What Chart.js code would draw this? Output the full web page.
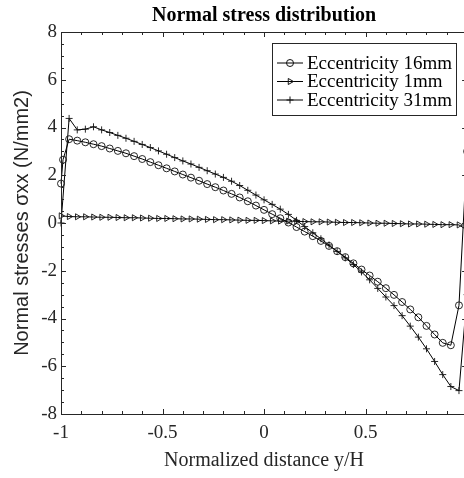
<!DOCTYPE html>
<html>
<head>
<meta charset="utf-8">
<title>Normal stress distribution</title>
<script src="https://cdn.jsdelivr.net/npm/chart.js@4.4.1/dist/chart.umd.min.js"></script>
<style>
html, body { margin: 0; padding: 0; background: #fff; overflow: hidden; }
#wrap { width: 472px; height: 478px; }
</style>
</head>
<body>
<div id="wrap"><canvas id="stressChart" width="472" height="478"></canvas></div>
<script>
// Normalized distance y/H (shared by all series)
const xValues = [-1, -0.99, -0.96, -0.92, -0.88, -0.84, -0.8, -0.76, -0.72, -0.68, -0.64, -0.6,
    -0.56, -0.52, -0.48, -0.44, -0.4, -0.36, -0.32, -0.28, -0.24, -0.2, -0.16, -0.12, -0.08, -0.04,
    0, 0.04, 0.08, 0.12, 0.16, 0.2, 0.24, 0.28, 0.32, 0.36, 0.4, 0.44, 0.48, 0.52, 0.56, 0.6,
    0.64, 0.68, 0.72, 0.76, 0.8, 0.84, 0.88, 0.92, 0.96, 1];

// Normal stresses (N/mm2)
const ecc16 = [1.65, 2.65, 3.51, 3.45, 3.38, 3.3, 3.22, 3.12, 3.02, 2.92, 2.8, 2.68,
    2.55, 2.42, 2.29, 2.16, 2.03, 1.9, 1.77, 1.63, 1.5, 1.36, 1.22, 1.07, 0.91, 0.73,
    0.55, 0.37, 0.2, 0.02, -0.17, -0.36, -0.55, -0.75, -0.96, -1.18, -1.43, -1.69, -1.95, -2.2, -2.46, -2.73,
    -3.01, -3.31, -3.62, -3.95, -4.31, -4.67, -5.02, -5.12, -3.45, 3.0];
const ecc1 = [0.3, null, 0.27, 0.26, 0.26, 0.25, 0.24, 0.24, 0.23, 0.22, 0.22, 0.21,
    0.2, 0.19, 0.19, 0.18, 0.17, 0.17, 0.16, 0.15, 0.14, 0.14, 0.13, 0.12, 0.11, 0.11,
    0.1, 0.09, 0.08, 0.08, 0.07, 0.06, 0.05, 0.05, 0.04, 0.03, 0.02, 0.02, 0.01, 0, -0.01, -0.01,
    -0.02, -0.03, -0.04, -0.04, -0.05, -0.06, -0.07, -0.07, -0.08, -0.3];
const ecc31 = [0, null, 4.38, 3.9, 3.93, 4.03, 3.9, 3.79, 3.67, 3.55, 3.42, 3.29,
    3.16, 3.02, 2.88, 2.74, 2.6, 2.47, 2.33, 2.19, 2.05, 1.91, 1.75, 1.57, 1.37, 1.17,
    0.97, 0.78, 0.58, 0.36, 0.11, -0.15, -0.41, -0.66, -0.92, -1.19, -1.46, -1.74, -2.05, -2.38, -2.74, -3.1,
    -3.46, -3.88, -4.32, -4.78, -5.27, -5.8, -6.35, -6.85, -7.02, -3.0];

const seriesLabels = ['Eccentricity 16mm', 'Eccentricity 1mm', 'Eccentricity 31mm'];

// Tick labels
const xTickValues = [-1, -0.5, 0, 0.5];
const xTickLabels = ['-1', '-0.5', '0', '0.5'];
const yTickValues = [-8, -6, -4, -2, 0, 2, 4, 6, 8];
const yTickLabels = ['-8', '-6', '-4', '-2', '0', '2', '4', '6', '8'];

const axisColor = '#262626';
const serif = "'Liberation Serif', 'Times New Roman', serif";

function toPoints(values) {
    return xValues.map((x, i) => ({ x: x, y: values[i] }));
}

function makeDataset(label, values, style, rotation, radius) {
    return {
        label: label,
        data: toPoints(values),
        borderColor: '#000',
        borderWidth: 1,
        pointStyle: style,
        rotation: rotation,
        pointRadius: radius,
        pointBorderWidth: 0.9,
        pointBorderColor: '#111',
        pointBackgroundColor: 'rgba(0,0,0,0)',
        spanGaps: true,
        clip: false,
        tension: 0
    };
}

// Kutu, içe bakan tikler (ana + ara)
const axesBoxPlugin = {
    id: 'axesBox',
    afterDatasetsDraw(chart) {
        const { ctx, chartArea: a, scales: { x, y } } = chart;
        ctx.save();
        ctx.strokeStyle = axisColor;
        ctx.lineWidth = 1;
        ctx.beginPath();
        // x ticks (alt + üst)
        for (let k = -10; k <= 10; k++) {
            const v = k / 10;
            const px = Math.round(x.getPixelForValue(v)) + 0.5;
            const len = (k % 5 === 0) ? 5 : 3;
            ctx.moveTo(px, a.bottom); ctx.lineTo(px, a.bottom - len);
            ctx.moveTo(px, a.top); ctx.lineTo(px, a.top + len);
        }
        // y ticks (sol + sağ)
        for (let k = -16; k <= 16; k++) {
            const v = k / 2;
            const py = Math.round(y.getPixelForValue(v)) + 0.5;
            const len = (k % 4 === 0) ? 5 : 3;
            ctx.moveTo(a.left, py); ctx.lineTo(a.left + len, py);
            ctx.moveTo(a.right, py); ctx.lineTo(a.right - len, py);
        }
        ctx.stroke();
        ctx.strokeRect(Math.round(a.left) + 0.5, Math.round(a.top) + 0.5,
            Math.round(a.right - a.left), Math.round(a.bottom - a.top));
        ctx.restore();
    }
};

// Matlab tarzı lejant
const legendBoxPlugin = {
    id: 'legendBox',
    afterDraw(chart) {
        const { ctx } = chart;
        const box = { left: 272, top: 43, right: 456, bottom: 115 };
        const rowY = [63, 81.5, 100];
        ctx.save();
        ctx.fillStyle = '#fff';
        ctx.fillRect(box.left, box.top, box.right - box.left, box.bottom - box.top);
        ctx.strokeStyle = axisColor;
        ctx.lineWidth = 1;
        ctx.strokeRect(box.left + 0.5, box.top + 0.5, box.right - box.left, box.bottom - box.top);
        ctx.font = '19px ' + serif;
        ctx.textBaseline = 'middle';
        chart.data.datasets.forEach((ds, i) => {
            const y = rowY[i];
            ctx.strokeStyle = '#000';
            ctx.lineWidth = 1;
            ctx.beginPath();
            ctx.moveTo(box.left + 5, y);
            ctx.lineTo(box.left + 31, y);
            ctx.stroke();
            ctx.strokeStyle = ds.pointBorderColor;
            ctx.fillStyle = 'rgba(0,0,0,0)';
            Chart.helpers.drawPoint(ctx, {
                pointStyle: ds.pointStyle,
                rotation: ds.rotation,
                radius: ds.pointRadius,
                borderWidth: ds.pointBorderWidth
            }, box.left + 18, y);
            ctx.fillStyle = '#000';
            ctx.fillText(ds.label, box.left + 35, y + 1);
        });
        ctx.restore();
    }
};

Chart.defaults.font.family = serif;
Chart.defaults.color = axisColor;

const ctx = document.getElementById('stressChart').getContext('2d');
const stressChart = new Chart(ctx, {
    type: 'line',
    data: {
        datasets: [
            makeDataset(seriesLabels[0], ecc16, 'circle', 0, 3.5),
            makeDataset(seriesLabels[1], ecc1, 'triangle', 90, 3.5),
            makeDataset(seriesLabels[2], ecc31, 'cross', 0, 3.5)
        ]
    },
    options: {
        responsive: false,
        animation: false,
        devicePixelRatio: 1,
        layout: { padding: { left: 0, right: 1, top: 0, bottom: 0 } },
        plugins: {
            legend: { display: false },
            tooltip: { enabled: false },
            title: {
                display: true,
                text: 'Normal stress distribution',
                fullSize: false,
                color: '#000',
                font: { family: serif, size: 20, weight: 'bold' },
                padding: { top: 4, bottom: 4 }
            }
        },
        scales: {
            x: {
                type: 'linear',
                min: -1,
                max: 1,
                grid: { display: false, drawTicks: false },
                border: { display: false },
                afterBuildTicks: s => { s.ticks = xTickValues.map(v => ({ value: v })); },
                afterFit: s => { s.height = 64; },
                ticks: {
                    autoSkip: false,
                    maxRotation: 0,
                    padding: 8,
                    font: { size: 19 },
                    callback: (v) => xTickLabels[xTickValues.indexOf(v)]
                },
                title: {
                    display: true,
                    text: 'Normalized distance y/H',
                    font: { size: 20 },
                    padding: { top: 0, bottom: 5 }
                }
            },
            y: {
                min: -8,
                max: 8,
                grid: { display: false, drawTicks: false },
                border: { display: false },
                afterBuildTicks: s => { s.ticks = yTickValues.map(v => ({ value: v })); },
                afterFit: s => { s.width = 61; },
                ticks: {
                    autoSkip: false,
                    padding: 4,
                    font: { size: 19 },
                    callback: (v) => yTickLabels[yTickValues.indexOf(v)]
                },
                title: {
                    display: true,
                    text: 'Normal stresses σxx (N/mm2)',
                    font: { family: "'Liberation Sans', Arial, sans-serif", size: 20 },
                    padding: { top: 10, bottom: 0 }
                }
            }
        }
    },
    plugins: [axesBoxPlugin, legendBoxPlugin]
});
</script>
</body>
</html>
